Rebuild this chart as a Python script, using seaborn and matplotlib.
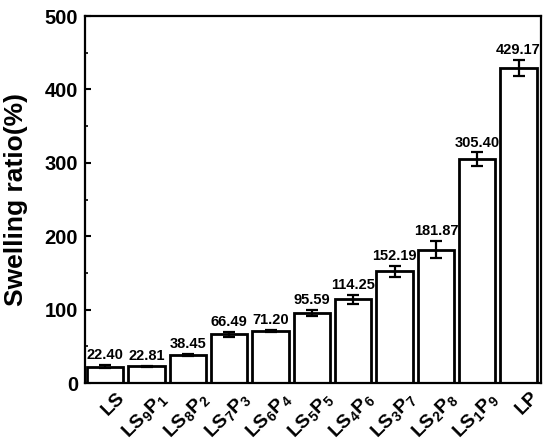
import matplotlib
matplotlib.use('Agg')
import matplotlib.pyplot as plt
import matplotlib.transforms as mtransforms
import seaborn as sns
from matplotlib.ticker import MultipleLocator

samples = ['LS', 'LS$_9$P$_1$', 'LS$_8$P$_2$', 'LS$_7$P$_3$', 'LS$_6$P$_4$', 'LS$_5$P$_5$',
           'LS$_4$P$_6$', 'LS$_3$P$_7$', 'LS$_2$P$_8$', 'LS$_1$P$_9$', 'LP']
swelling = [22.40, 22.81, 38.45, 66.49, 71.20, 95.59, 114.25, 152.19, 181.87, 305.40, 429.17]
errors = [2.0, 1.0, 1.5, 3.0, 1.5, 4.0, 6.0, 8.0, 12.0, 9.0, 11.0]


def main():
    sns.set_style('ticks')
    plt.rcParams['font.family'] = ['Liberation Sans', 'DejaVu Sans']
    plt.rcParams['font.weight'] = 'bold'
    plt.rcParams['text.color'] = 'black'
    plt.rcParams['axes.labelcolor'] = 'black'
    plt.rcParams['xtick.color'] = 'black'
    plt.rcParams['ytick.color'] = 'black'
    plt.rcParams['axes.edgecolor'] = 'black'
    plt.rcParams['mathtext.fontset'] = 'custom'
    plt.rcParams['mathtext.rm'] = 'Liberation Sans:bold'
    plt.rcParams['mathtext.it'] = 'Liberation Sans:bold'
    plt.rcParams['mathtext.bf'] = 'Liberation Sans:bold'

    fig = plt.figure(figsize=(5.5, 4.45), dpi=100)
    ax = fig.add_axes([0.1545, 0.139, 0.829, 0.825])

    sns.barplot(x=samples, y=swelling, color='white', edgecolor='black',
                linewidth=2, width=0.88, ax=ax)

    # bar centres straight from the patches
    centres = [p.get_x() + p.get_width() / 2 for p in ax.patches]
    ax.errorbar(centres, swelling, yerr=errors, fmt='none', ecolor='black',
                elinewidth=1.6, capsize=4, capthick=1.6)

    for x, v, e in zip(centres, swelling, errors):
        ax.annotate(f'{v:.2f}', (x, v + e), xytext=(0, 2), textcoords='offset points',
                    ha='center', va='bottom', fontsize=10.5, fontweight='bold')

    ax.set_ylim(0, 500)
    ax.set_xlim(-0.49, 10.54)
    ax.yaxis.set_major_locator(MultipleLocator(100))
    ax.yaxis.set_minor_locator(MultipleLocator(50))
    ax.tick_params(axis='y', which='major', direction='in', length=4, width=1.5,
                   labelsize=14.5, pad=5)
    ax.tick_params(axis='y', which='minor', direction='in', length=2.5, width=1.2)
    ax.tick_params(axis='x', length=0, labelsize=14, pad=4)
    shift = mtransforms.ScaledTranslation(0.11, 0, fig.dpi_scale_trans)
    for lab in ax.get_xticklabels():
        lab.set_rotation(45)
        lab.set_ha('right')
        lab.set_va('top')
        lab.set_rotation_mode('anchor')
        lab.set_fontweight('bold')
        lab.set_transform(lab.get_transform() + shift)
    for lab in ax.get_yticklabels():
        lab.set_fontweight('bold')

    ax.set_ylabel('Swelling ratio(%)', fontsize=19, fontweight='bold')
    ax.yaxis.set_label_coords(-0.125, 0.5)
    for s in ax.spines.values():
        s.set_linewidth(1.6)
        s.set_visible(True)

    fig.savefig('out.png', dpi=100)


if __name__ == '__main__':
    main()
